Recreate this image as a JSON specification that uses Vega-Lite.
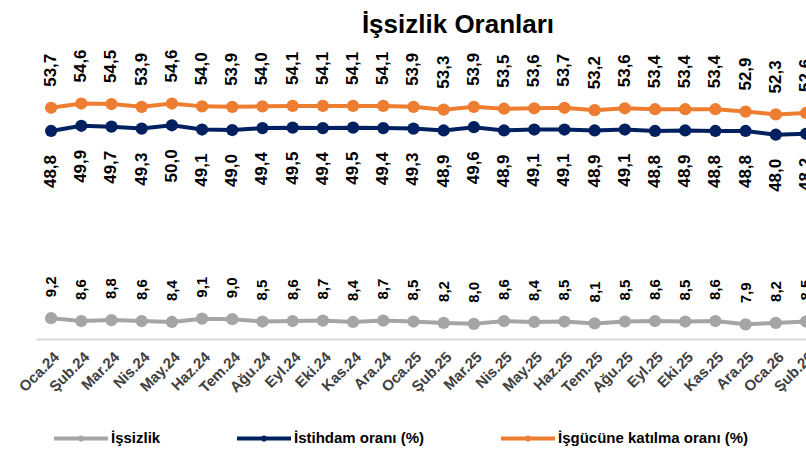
{
  "$schema": "https://vega.github.io/schema/vega-lite/v6.json",
  "width": 770,
  "height": 261,
  "autosize": "none",
  "padding": {"left": 36, "top": 78, "right": 0, "bottom": 118},
  "background": "white",
  "config": {
    "locale": {"number": {"decimal": ",", "thousands": ".", "grouping": [3], "currency": ["", " ₺"]}},
    "view": {"stroke": null},
    "font": "Liberation Sans"
  },
  "title": {
    "text": "İşsizlik Oranları",
    "fontSize": 26,
    "fontWeight": "bold",
    "font": "Liberation Sans",
    "color": "#000000",
    "anchor": "middle",
    "frame": "group",
    "dx": 37,
    "offset": 11
  },
  "data": {
    "values": [
      {"ay": "Oca.24", "seri": "İşsizlik", "deger": 9.2},
      {"ay": "Şub.24", "seri": "İşsizlik", "deger": 8.6},
      {"ay": "Mar.24", "seri": "İşsizlik", "deger": 8.8},
      {"ay": "Nis.24", "seri": "İşsizlik", "deger": 8.6},
      {"ay": "May.24", "seri": "İşsizlik", "deger": 8.4},
      {"ay": "Haz.24", "seri": "İşsizlik", "deger": 9.1},
      {"ay": "Tem.24", "seri": "İşsizlik", "deger": 9.0},
      {"ay": "Ağu.24", "seri": "İşsizlik", "deger": 8.5},
      {"ay": "Eyl.24", "seri": "İşsizlik", "deger": 8.6},
      {"ay": "Eki.24", "seri": "İşsizlik", "deger": 8.7},
      {"ay": "Kas.24", "seri": "İşsizlik", "deger": 8.4},
      {"ay": "Ara.24", "seri": "İşsizlik", "deger": 8.7},
      {"ay": "Oca.25", "seri": "İşsizlik", "deger": 8.5},
      {"ay": "Şub.25", "seri": "İşsizlik", "deger": 8.2},
      {"ay": "Mar.25", "seri": "İşsizlik", "deger": 8.0},
      {"ay": "Nis.25", "seri": "İşsizlik", "deger": 8.6},
      {"ay": "May.25", "seri": "İşsizlik", "deger": 8.4},
      {"ay": "Haz.25", "seri": "İşsizlik", "deger": 8.5},
      {"ay": "Tem.25", "seri": "İşsizlik", "deger": 8.1},
      {"ay": "Ağu.25", "seri": "İşsizlik", "deger": 8.5},
      {"ay": "Eyl.25", "seri": "İşsizlik", "deger": 8.6},
      {"ay": "Eki.25", "seri": "İşsizlik", "deger": 8.5},
      {"ay": "Kas.25", "seri": "İşsizlik", "deger": 8.6},
      {"ay": "Ara.25", "seri": "İşsizlik", "deger": 7.9},
      {"ay": "Oca.26", "seri": "İşsizlik", "deger": 8.2},
      {"ay": "Şub.26", "seri": "İşsizlik", "deger": 8.5},
      {"ay": "Oca.24", "seri": "İstihdam oranı (%)", "deger": 48.8},
      {"ay": "Şub.24", "seri": "İstihdam oranı (%)", "deger": 49.9},
      {"ay": "Mar.24", "seri": "İstihdam oranı (%)", "deger": 49.7},
      {"ay": "Nis.24", "seri": "İstihdam oranı (%)", "deger": 49.3},
      {"ay": "May.24", "seri": "İstihdam oranı (%)", "deger": 50.0},
      {"ay": "Haz.24", "seri": "İstihdam oranı (%)", "deger": 49.1},
      {"ay": "Tem.24", "seri": "İstihdam oranı (%)", "deger": 49.0},
      {"ay": "Ağu.24", "seri": "İstihdam oranı (%)", "deger": 49.4},
      {"ay": "Eyl.24", "seri": "İstihdam oranı (%)", "deger": 49.5},
      {"ay": "Eki.24", "seri": "İstihdam oranı (%)", "deger": 49.4},
      {"ay": "Kas.24", "seri": "İstihdam oranı (%)", "deger": 49.5},
      {"ay": "Ara.24", "seri": "İstihdam oranı (%)", "deger": 49.4},
      {"ay": "Oca.25", "seri": "İstihdam oranı (%)", "deger": 49.3},
      {"ay": "Şub.25", "seri": "İstihdam oranı (%)", "deger": 48.9},
      {"ay": "Mar.25", "seri": "İstihdam oranı (%)", "deger": 49.6},
      {"ay": "Nis.25", "seri": "İstihdam oranı (%)", "deger": 48.9},
      {"ay": "May.25", "seri": "İstihdam oranı (%)", "deger": 49.1},
      {"ay": "Haz.25", "seri": "İstihdam oranı (%)", "deger": 49.1},
      {"ay": "Tem.25", "seri": "İstihdam oranı (%)", "deger": 48.9},
      {"ay": "Ağu.25", "seri": "İstihdam oranı (%)", "deger": 49.1},
      {"ay": "Eyl.25", "seri": "İstihdam oranı (%)", "deger": 48.8},
      {"ay": "Eki.25", "seri": "İstihdam oranı (%)", "deger": 48.9},
      {"ay": "Kas.25", "seri": "İstihdam oranı (%)", "deger": 48.8},
      {"ay": "Ara.25", "seri": "İstihdam oranı (%)", "deger": 48.8},
      {"ay": "Oca.26", "seri": "İstihdam oranı (%)", "deger": 48.0},
      {"ay": "Şub.26", "seri": "İstihdam oranı (%)", "deger": 48.2},
      {"ay": "Oca.24", "seri": "İşgücüne katılma oranı (%)", "deger": 53.7},
      {"ay": "Şub.24", "seri": "İşgücüne katılma oranı (%)", "deger": 54.6},
      {"ay": "Mar.24", "seri": "İşgücüne katılma oranı (%)", "deger": 54.5},
      {"ay": "Nis.24", "seri": "İşgücüne katılma oranı (%)", "deger": 53.9},
      {"ay": "May.24", "seri": "İşgücüne katılma oranı (%)", "deger": 54.6},
      {"ay": "Haz.24", "seri": "İşgücüne katılma oranı (%)", "deger": 54.0},
      {"ay": "Tem.24", "seri": "İşgücüne katılma oranı (%)", "deger": 53.9},
      {"ay": "Ağu.24", "seri": "İşgücüne katılma oranı (%)", "deger": 54.0},
      {"ay": "Eyl.24", "seri": "İşgücüne katılma oranı (%)", "deger": 54.1},
      {"ay": "Eki.24", "seri": "İşgücüne katılma oranı (%)", "deger": 54.1},
      {"ay": "Kas.24", "seri": "İşgücüne katılma oranı (%)", "deger": 54.1},
      {"ay": "Ara.24", "seri": "İşgücüne katılma oranı (%)", "deger": 54.1},
      {"ay": "Oca.25", "seri": "İşgücüne katılma oranı (%)", "deger": 53.9},
      {"ay": "Şub.25", "seri": "İşgücüne katılma oranı (%)", "deger": 53.3},
      {"ay": "Mar.25", "seri": "İşgücüne katılma oranı (%)", "deger": 53.9},
      {"ay": "Nis.25", "seri": "İşgücüne katılma oranı (%)", "deger": 53.5},
      {"ay": "May.25", "seri": "İşgücüne katılma oranı (%)", "deger": 53.6},
      {"ay": "Haz.25", "seri": "İşgücüne katılma oranı (%)", "deger": 53.7},
      {"ay": "Tem.25", "seri": "İşgücüne katılma oranı (%)", "deger": 53.2},
      {"ay": "Ağu.25", "seri": "İşgücüne katılma oranı (%)", "deger": 53.6},
      {"ay": "Eyl.25", "seri": "İşgücüne katılma oranı (%)", "deger": 53.4},
      {"ay": "Eki.25", "seri": "İşgücüne katılma oranı (%)", "deger": 53.4},
      {"ay": "Kas.25", "seri": "İşgücüne katılma oranı (%)", "deger": 53.4},
      {"ay": "Ara.25", "seri": "İşgücüne katılma oranı (%)", "deger": 52.9},
      {"ay": "Oca.26", "seri": "İşgücüne katılma oranı (%)", "deger": 52.3},
      {"ay": "Şub.26", "seri": "İşgücüne katılma oranı (%)", "deger": 52.6}
    ]
  },
  "encoding": {
    "x": {
      "field": "ay",
      "type": "ordinal",
      "sort": null,
      "title": null,
      "scale": {"type": "point", "padding": 0.25, "align": 1},
      "axis": {
        "labelAngle": -45,
        "labelFontSize": 15,
        "labelFontWeight": "bold",
        "labelColor": "#404040",
        "labelFont": "Liberation Sans",
        "labelPadding": 10,
        "labelOverlap": false,
        "ticks": false,
        "grid": false,
        "domainColor": "#d9d9d9",
        "domainWidth": 2
      }
    },
    "y": {
      "field": "deger",
      "type": "quantitative",
      "scale": {"domain": [4.8, 60], "zero": false, "nice": false},
      "axis": null
    }
  },
  "layer": [
    {
      "mark": {"type": "line", "strokeWidth": 4, "point": {"filled": true, "size": 150, "opacity": 1}},
      "encoding": {
        "color": {
          "field": "seri",
          "type": "nominal",
          "scale": {
            "domain": ["İşsizlik", "İstihdam oranı (%)", "İşgücüne katılma oranı (%)"],
            "range": ["#A5A5A5", "#002060", "#ED7D31"]
          },
          "legend": {
            "title": null,
            "orient": "none",
            "direction": "horizontal",
            "legendX": 16,
            "legendY": 331,
            "columnPadding": 68,
            "symbolType": "M-1,0H1M0.04,0A0.04,0.04,0,1,1,-0.04,0A0.04,0.04,0,1,1,0.04,0Z",
            "symbolSize": 2916,
            "symbolStrokeWidth": 4,
            "labelFontSize": 15,
            "labelFontWeight": "bold",
            "labelColor": "#000000",
            "labelFont": "Liberation Sans",
            "labelOffset": 1,
            "labelLimit": 400
          }
        }
      }
    },
    {
      "transform": [{"filter": "datum.seri === 'İşgücüne katılma oranı (%)'"}],
      "mark": {"type": "text", "angle": -90, "align": "left", "baseline": "middle", "dx": 21, "fontSize": 17, "fontWeight": "bold", "color": "#000000"},
      "encoding": {"text": {"field": "deger", "type": "quantitative", "format": ".1f"}}
    },
    {
      "transform": [{"filter": "datum.seri === 'İstihdam oranı (%)'"}],
      "mark": {"type": "text", "angle": -90, "align": "right", "baseline": "middle", "dx": -24, "fontSize": 17, "fontWeight": "bold", "color": "#000000"},
      "encoding": {"text": {"field": "deger", "type": "quantitative", "format": ".1f"}}
    },
    {
      "transform": [{"filter": "datum.seri === 'İşsizlik'"}],
      "mark": {"type": "text", "angle": -90, "align": "left", "baseline": "middle", "dx": 21, "fontSize": 15, "fontWeight": "bold", "color": "#000000"},
      "encoding": {"text": {"field": "deger", "type": "quantitative", "format": ".1f"}}
    }
  ]
}
